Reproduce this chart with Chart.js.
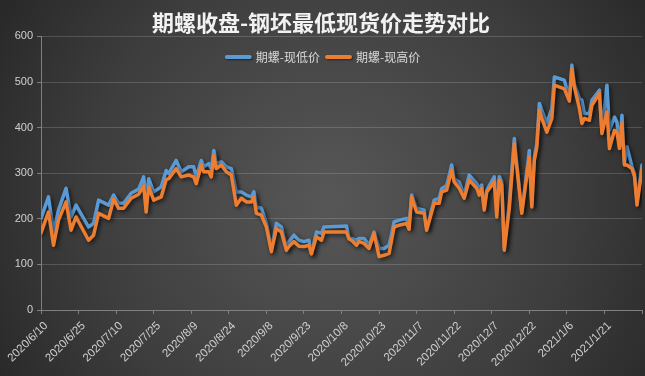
<!DOCTYPE html>
<html>
<head>
<meta charset="utf-8">
<script src="https://cdn.jsdelivr.net/npm/chart.js@4.4.1/dist/chart.umd.min.js"></script>
<style>
html,body{margin:0;padding:0;background:#333;}
#c{display:block;}
</style>
</head>
<body>
<canvas id="c" width="645" height="376"></canvas>
<script>
const titleText = '期螺收盘-钢坯最低现货价走势对比';
const seriesNames = ['期螺-现低价', '期螺-现高价'];
const startDate = '2020/6/10';
const xTickLabels = ['2020/6/10','2020/6/25','2020/7/10','2020/7/25','2020/8/9','2020/8/24','2020/9/8','2020/9/23','2020/10/8','2020/10/23','2020/11/7','2020/11/22','2020/12/7','2020/12/22','2021/1/6','2021/1/21'];
const yTicks = [0,100,200,300,400,500,600];

const dates = [
'2020/6/10','2020/6/13','2020/6/15','2020/6/17','2020/6/20','2020/6/22','2020/6/24','2020/6/29','2020/7/1','2020/7/3',
'2020/7/7','2020/7/9','2020/7/11','2020/7/13','2020/7/16','2020/7/19','2020/7/21','2020/7/22','2020/7/23','2020/7/25',
'2020/7/28','2020/7/30','2020/7/31','2020/8/3','2020/8/5','2020/8/8','2020/8/10','2020/8/11','2020/8/13','2020/8/14',
'2020/8/16','2020/8/17','2020/8/18','2020/8/19','2020/8/21','2020/8/23','2020/8/25','2020/8/27','2020/8/29','2020/8/31',
'2020/9/2','2020/9/3','2020/9/4','2020/9/6','2020/9/8','2020/9/10','2020/9/12','2020/9/14','2020/9/16','2020/9/17',
'2020/9/19','2020/9/21','2020/9/23','2020/9/25','2020/9/26','2020/9/28','2020/9/30','2020/10/1','2020/10/10','2020/10/11',
'2020/10/12','2020/10/14','2020/10/15','2020/10/17','2020/10/19','2020/10/21','2020/10/23','2020/10/25','2020/10/27','2020/10/29',
'2020/10/31','2020/11/3','2020/11/4','2020/11/5','2020/11/7','2020/11/10','2020/11/11','2020/11/14','2020/11/16','2020/11/17',
'2020/11/19','2020/11/21','2020/11/22','2020/11/24','2020/11/26','2020/11/28','2020/12/1','2020/12/2','2020/12/3','2020/12/4',
'2020/12/5','2020/12/8','2020/12/9','2020/12/10','2020/12/11','2020/12/12','2020/12/14','2020/12/16','2020/12/19','2020/12/22',
'2020/12/23','2020/12/24','2020/12/25','2020/12/26','2020/12/27','2020/12/29','2020/12/31','2021/1/1','2021/1/5','2021/1/7',
'2021/1/8','2021/1/9','2021/1/11','2021/1/12','2021/1/13','2021/1/15','2021/1/16','2021/1/19','2021/1/20','2021/1/22',
'2021/1/23','2021/1/25','2021/1/26','2021/1/27','2021/1/28','2021/1/29','2021/1/30','2021/2/1','2021/2/2','2021/2/3',
'2021/2/5'
];

const lowSpread = [
201,248,171,219,267,204,230,182,190,241,
230,252,234,234,256,265,292,237,288,259,
270,306,299,328,303,314,314,292,328,314,
321,310,350,321,325,314,310,259,259,252,
248,259,226,223,190,135,190,182,135,150,
164,153,150,153,124,171,168,182,184,158,
157,153,157,157,142,171,135,135,142,193,
197,201,184,252,223,219,179,241,245,266,
273,318,288,281,252,296,277,266,274,223,
263,292,241,292,281,136,234,376,215,350,
230,336,365,453,438,410,442,511,504,464,
537,496,464,460,431,431,460,482,390,493,
394,423,412,358,427,321,358,314,300,239,
318
];

const highSpread = [
169,215,142,197,237,175,204,153,164,212,
201,243,223,223,245,254,272,215,270,241,
248,286,288,310,292,296,292,277,318,303,
303,292,339,310,318,303,296,230,245,237,
237,248,212,208,182,128,179,171,131,139,
150,140,139,142,123,161,153,171,171,156,
153,142,150,146,135,168,117,120,124,182,
186,190,177,247,215,212,175,234,234,259,
263,307,281,267,245,285,267,252,267,219,
259,281,204,285,274,131,223,365,212,336,
226,328,357,438,420,390,420,493,485,458,
529,489,442,409,420,416,449,475,387,434,
354,394,390,354,409,318,318,310,293,230,
310
];

function dayIndex(s){
  const p = s.split('/').map(Number);
  const b = startDate.split('/').map(Number);
  return Math.round((Date.UTC(p[0],p[1]-1,p[2]) - Date.UTC(b[0],b[1]-1,b[2]))/86400000);
}
const toPoints = vals => dates.map((d,i)=>({x: dayIndex(d), y: vals[i]}));

const bgPlugin = {
  id:'bg',
  beforeDraw(chart){
    const c = chart.ctx, w = chart.width, h = chart.height;
    c.save();
    const g = c.createRadialGradient(330,200,10,330,200,420);
    g.addColorStop(0,'#565656');
    g.addColorStop(0.55,'#3e3e3e');
    g.addColorStop(1,'#232323');
    c.fillStyle = g;
    c.fillRect(0,0,w,h);
    c.restore();
  }
};

const shadowPlugin = {
  id:'lineShadow',
  beforeDatasetsDraw(chart){
    const c = chart.ctx;
    c.save();
    c.shadowColor = 'rgba(0,0,0,0.6)';
    c.shadowBlur = 4;
    c.shadowOffsetX = 2;
    c.shadowOffsetY = 2;
  },
  afterDatasetsDraw(chart){ chart.ctx.restore(); }
};

const legendPlugin = {
  id:'innerLegend',
  afterDraw(chart){
    const c = chart.ctx;
    c.save();
    c.font = '12px "Noto Sans CJK SC", sans-serif';
    c.textBaseline = 'middle';
    const boxW = 27, gap = 4, itemGap = 5;
    const items = chart.data.datasets.map(ds=>({text: ds.label, color: ds.borderColor, w: c.measureText(ds.label).width}));
    let total = items.reduce((s,it)=>s+boxW+gap+it.w,0) + itemGap*(items.length-1);
    let x = chart.width/2 - total/2;
    const y = 57;
    items.forEach(it=>{
      c.shadowColor='rgba(0,0,0,0.5)'; c.shadowBlur=2; c.shadowOffsetX=1; c.shadowOffsetY=1;
      c.strokeStyle = it.color; c.lineWidth = 4; c.lineCap='round';
      c.beginPath(); c.moveTo(x+2,y); c.lineTo(x+boxW-2,y); c.stroke();
      c.shadowColor='transparent';
      c.fillStyle = '#d9d9d9';
      c.fillText(it.text, x+boxW+gap, y);
      x += boxW+gap+it.w+itemGap;
    });
    c.restore();
  }
};

new Chart(document.getElementById('c'), {
  type:'line',
  data:{
    datasets:[
      {label: seriesNames[0], data: toPoints(lowSpread), borderColor:'#5b9bd5', backgroundColor:'#5b9bd5', borderWidth:3.5, pointRadius:0, tension:0, borderJoinStyle:'round', borderCapStyle:'round', order:1},
      {label: seriesNames[1], data: toPoints(highSpread), borderColor:'#ed7d31', backgroundColor:'#ed7d31', borderWidth:3.5, pointRadius:0, tension:0, borderJoinStyle:'round', borderCapStyle:'round', order:0}
    ]
  },
  options:{
    responsive:false,
    animation:false,
    devicePixelRatio:1,
    layout:{padding:{left:0,right:3,top:0,bottom:0}},
    plugins:{
      legend:{display:false},
      tooltip:{enabled:false},
      title:{display:true, text:titleText, color:'#f2f2f2', font:{family:'"Noto Sans CJK SC", sans-serif', size:22, weight:'bold', lineHeight:1.2}, padding:{top:9,bottom:1}}
    },
    scales:{
      x:{
        type:'linear', min:0, max:240,
        afterFit(s){ s.height = 66; s.paddingRight = 0; s.paddingLeft = 0; },
        afterBuildTicks(s){ s.ticks = xTickLabels.map((_,i)=>({value:i*15})).concat([{value:240}]); },
        ticks:{
          autoSkip:false, maxRotation:45, minRotation:45, color:'#d0d0d0', padding:5, labelOffset:5,
          font:{family:'"Liberation Sans", Arial, sans-serif', size:11.5},
          callback:(v)=> xTickLabels[v/15] || ''
        },
        grid:{drawOnChartArea:false, drawTicks:true, tickLength:4, color:'#808080'},
        border:{color:'#808080', width:1}
      },
      y:{
        min:0, max:600,
        afterFit(s){ s.width = 41; },
        afterBuildTicks(s){ s.ticks = yTicks.map(v=>({value:v})); },
        ticks:{color:'#d0d0d0', padding:4, font:{family:'"Liberation Sans", Arial, sans-serif', size:11}},
        grid:{color:'rgba(255,255,255,0.16)', tickLength:4, tickColor:'#808080'},
        border:{color:'#808080', width:1}
      }
    }
  },
  plugins:[bgPlugin, shadowPlugin, legendPlugin]
});
</script>
</body>
</html>
